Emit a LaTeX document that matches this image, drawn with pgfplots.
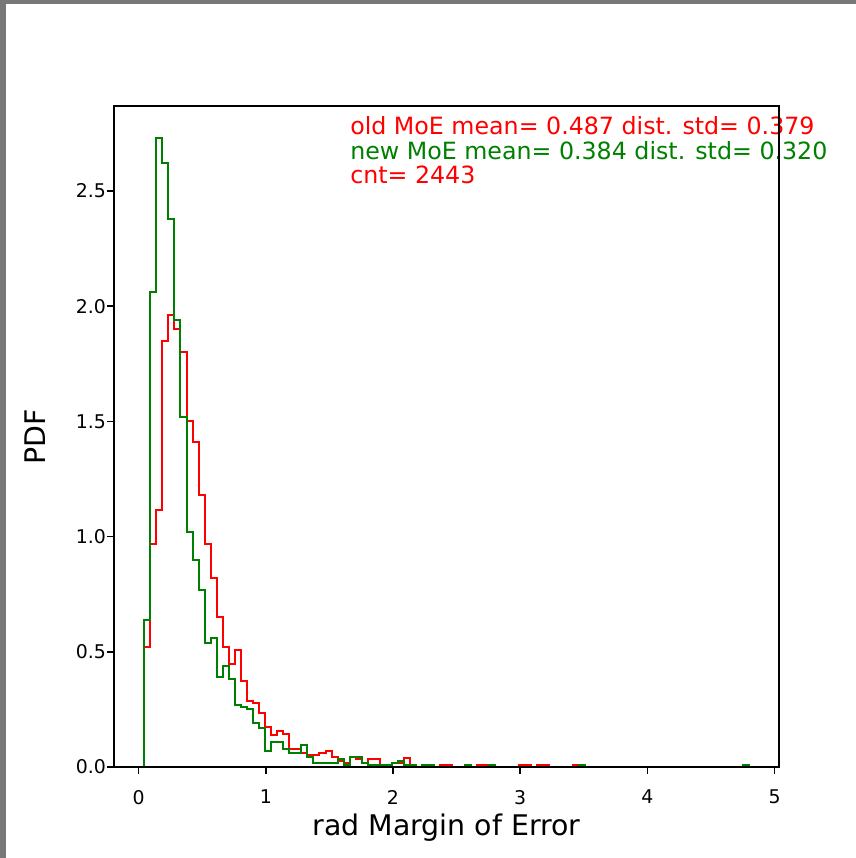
\documentclass[border=0pt]{standalone}
\usepackage{fontspec}
\setmainfont{DejaVu Sans}
\usepackage{pgfplots}
\usepackage{pgfplotstable}
\pgfplotsset{compat=1.18}
\definecolor{mplred}{HTML}{FF0000}
\definecolor{mplgreen}{HTML}{008000}
\definecolor{framegray}{HTML}{787878}

% histogram outlines: left bin edge, density (const plot holds value to next edge)
\pgfplotstableread{
x y
0.0446 0
0.0446 0.52
0.0921 0.97
0.1396 1.115
0.1871 1.85
0.2346 1.96
0.2821 1.90
0.3296 1.80
0.3771 1.50
0.4246 1.41
0.4721 1.18
0.5196 0.97
0.5671 0.82
0.6146 0.652
0.6621 0.52
0.7096 0.445
0.7571 0.507
0.8046 0.375
0.8521 0.285
0.8996 0.278
0.9471 0.233
0.9946 0.175
1.0421 0.139
1.0896 0.155
1.1371 0.145
1.1846 0.077
1.2321 0.077
1.2796 0.060
1.3271 0.052
1.3746 0.052
1.4221 0.060
1.4696 0.069
1.5171 0.043
1.5646 0.026
1.6121 0.017
1.6596 0.043
1.7071 0.034
1.7546 0.017
1.8021 0.034
1.8496 0.034
1.8971 0.009
1.9446 0.009
1.9921 0.017
2.0396 0.017
2.0871 0.039
2.1346 0
2.3721 0.009
2.4196 0.009
2.4671 0
2.6571 0.009
2.7046 0.009
2.7521 0
2.9896 0.009
3.0371 0.009
3.0846 0
3.1321 0.009
3.1796 0.009
3.2271 0
3.4171 0.009
3.4646 0
4.7946 0
}\oldmoe

\pgfplotstableread{
x y
0.0446 0
0.0446 0.64
0.0921 2.06
0.1396 2.73
0.1871 2.62
0.2346 2.38
0.2821 1.94
0.3296 1.52
0.3771 1.02
0.4246 0.90
0.4721 0.77
0.5196 0.54
0.5671 0.56
0.6146 0.39
0.6621 0.44
0.7096 0.38
0.7571 0.27
0.8046 0.26
0.8521 0.25
0.8996 0.19
0.9471 0.17
0.9946 0.069
1.0421 0.11
1.0896 0.11
1.1371 0.077
1.1846 0.060
1.2321 0.060
1.2796 0.095
1.3271 0.043
1.3746 0.017
1.4221 0.017
1.4696 0.017
1.5171 0.017
1.5646 0.034
1.6121 0.009
1.6596 0.043
1.7071 0.043
1.7546 0.017
1.8021 0.009
1.8496 0.009
1.8971 0.009
1.9446 0.009
1.9921 0.017
2.0396 0.026
2.0871 0.009
2.1346 0.009
2.1821 0
2.2296 0.009
2.2771 0.009
2.3246 0
2.5621 0.009
2.6096 0
2.7521 0.009
2.7996 0
3.4646 0.009
3.5121 0
4.7471 0.009
4.7946 0
}\newmoe

\begin{document}
\begin{tikzpicture}
\path[use as bounding box] (-57bp,-45.5bp) rectangle (371bp,383.5bp);
\fill[framegray] (-57bp,381.5bp) rectangle (371bp,383.5bp);
\fill[framegray] (-57bp,-45.5bp) rectangle (-54bp,383.5bp);
\begin{axis}[
    at={(0,0)}, anchor=south west,
    scale only axis,
    width=332.5bp, height=330.5bp,
    xmin=-0.193, xmax=5.034,
    ymin=0, ymax=2.869,
    xtick={0,1,2,3,4,5},
    ytick={0,0.5,1,1.5,2,2.5},
    yticklabels={0.0,0.5,1.0,1.5,2.0,2.5},
    tick pos=left,
    tick align=outside,
    major tick length=3.5bp,
    every tick/.style={black, line width=0.8bp},
    axis line style={line width=0.8bp},
    /pgf/number format/assume math mode=true,
    tick label style={font=\fontsize{9.45bp}{11bp}\selectfont},
    xticklabel style={yshift=-4.5bp},
    yticklabel style={xshift=3bp},
    label style={font=\fontsize{14.2bp}{16bp}\selectfont},
    xlabel={rad Margin of Error},
    ylabel={PDF},
    xlabel style={at={(axis description cs:0.5,-0.103)}, anchor=base},
    ylabel style={at={(axis description cs:-0.103,0.5)}, anchor=base},
    clip mode=individual,
    axis on top,
]
\addplot[const plot, mplred, line width=1bp, line join=miter] table[x=x, y=y] {\oldmoe};
\addplot[const plot, mplgreen, line width=1bp, line join=miter] table[x=x, y=y] {\newmoe};
\node[anchor=north west, inner sep=0pt, align=left,
      font=\fontsize{11.86bp}{12.35bp}\selectfont] at (axis cs:1.661,2.826)
  {\textcolor{mplred}{old MoE mean= 0.487 dist. std= 0.379}\\
   \textcolor{mplgreen}{new MoE mean= 0.384 dist. std= 0.320}\\
   \textcolor{mplred}{cnt= 2443}};
\end{axis}
\end{tikzpicture}
\end{document}
